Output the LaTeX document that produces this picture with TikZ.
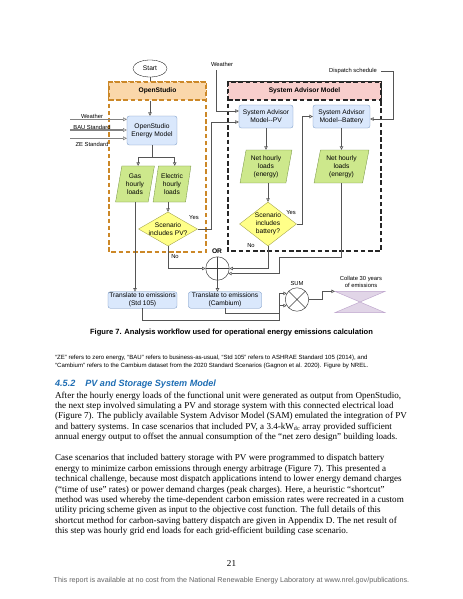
\documentclass[tikz,border=0pt]{standalone}
\usepackage{fontspec}
\setmainfont{Liberation Serif}
\setsansfont{Liberation Sans}
\usetikzlibrary{calc, positioning, arrows.meta, shapes.geometric}

\definecolor{osorange}{RGB}{204,136,40}
\definecolor{osfill}{RGB}{250,215,170}
\definecolor{samfill}{RGB}{248,206,204}
\definecolor{boxblue}{RGB}{218,232,252}
\definecolor{boxline}{RGB}{108,142,191}
\definecolor{datagreen}{RGB}{205,232,140}
\definecolor{dataline}{RGB}{110,140,60}
\definecolor{qyellow}{RGB}{255,255,136}
\definecolor{qline}{RGB}{150,150,60}
\definecolor{lavender}{RGB}{225,213,231}
\definecolor{lavline}{RGB}{190,165,205}
\definecolor{wiregray}{RGB}{85,85,85}
\definecolor{feedgray}{RGB}{130,130,130}
\definecolor{headblue}{RGB}{31,110,180}
\definecolor{footgray}{RGB}{100,100,100}

\newcommand\diagfont{\sffamily\fontsize{8.8}{10.3}\selectfont}
\newcommand\lblfont{\sffamily\fontsize{7.7}{9}\selectfont}
\newcommand\hdrfont{\sffamily\bfseries\fontsize{8.8}{10}\selectfont}

\tikzset{
  wire/.style={draw=wiregray, line width=0.8pt},
  flow/.style={wire, -{Triangle[open, length=4.5pt, width=4.5pt]}},
  feed/.style={draw=feedgray, line width=1.6pt, -{Triangle[open, length=5pt, width=5pt, line width=0.8pt]}},
  osframe/.style={draw=osorange, line width=1.5pt, dash pattern=on 6pt off 3.5pt},
  samframe/.style={draw=black!85, line width=1.5pt, dash pattern=on 6pt off 3.5pt},
  oshead/.style={osframe, fill=osfill, inner sep=0pt, font=\hdrfont},
  samhead/.style={samframe, fill=samfill, inner sep=0pt, font=\hdrfont},
  proc/.style={draw=boxline, fill=boxblue, rounded corners=3pt, align=center, inner sep=0.5pt, font=\diagfont},
  data/.style={trapezium, trapezium left angle=78, trapezium right angle=102, trapezium stretches=true,
    draw=dataline, fill=datagreen, align=center, inner sep=0pt, font=\diagfont},
  query/.style={diamond, draw=qline, fill=qyellow, inner sep=0pt},
  qtext/.style={align=center, inner sep=0pt, font=\diagfont},
  gate/.style={circle, draw=black!75, line width=0.6pt, fill=white, minimum size=31pt, inner sep=0pt},
  tag/.style={inner sep=0pt, font=\lblfont},
  collate/.style={draw=lavline, fill=lavender, line width=0.6pt},
  bodyline/.style={anchor=base west, inner sep=0pt, font=\rmfamily\fontsize{12}{13.8}\selectfont},
  noteline/.style={anchor=base west, inner sep=0pt, font=\sffamily\fontsize{8}{9.5}\selectfont},
}

\begin{document}
\begin{tikzpicture}[x=1.3218pt, y=-1.3218pt]
  \path[use as bounding box, fill=white] (0,0) rectangle (463,599);

  % swim lanes
  \draw[osframe] (109,82) rectangle (206,252);
  \draw[samframe] (228,82) rectangle (381,251);
  \node[oshead, minimum width=128.2pt, minimum height=23.8pt] (oshead) at (157.5,91) {OpenStudio};
  \node[samhead, minimum width=202.2pt, minimum height=23.8pt] (samhead) at (304.5,91) {System Advisor Model};

  % OpenStudio side
  \node[draw, ellipse, fill=white, minimum width=45pt, minimum height=22.5pt, inner sep=0pt, font=\diagfont] (start) at (150,68.5) {Start};
  \node[proc, minimum width=66pt, minimum height=38.3pt] (osmodel) at (152,130.5) {OpenStudio\\Energy Model};
  \node[data, minimum width=51.5pt, minimum height=47.6pt] (gas) at (135,184) {Gas\\hourly\\loads};
  \node[data, minimum width=50.2pt, minimum height=47.6pt] (elec) at (172,184) {Electric\\hourly\\loads};
  \node[query, minimum width=78pt, minimum height=45pt] (pvq) at (168,229) {};
  \node[qtext] (pvqt) at (pvq) {Scenario\\includes PV?};

  % SAM side
  \node[proc, minimum width=71.4pt, minimum height=30.4pt] (sampv) at (266,116.5) {System Advisor\\Model-{}-PV};
  \node[proc, minimum width=75.3pt, minimum height=30.4pt] (samb) at (341.5,116.5) {System Advisor\\Model-{}-Battery};
  \node[data, minimum width=68.7pt, minimum height=43.6pt] (pvnet) at (266,166.5) {Net hourly\\loads\\(energy)};
  \node[data, minimum width=72.7pt, minimum height=43.6pt] (batnet) at (341.5,166.5) {Net hourly\\loads\\(energy)};
  \node[query, minimum width=75.3pt, minimum height=58.2pt] (batq) at (268,224) {};
  \node[qtext] (batqt) at (batq) {Scenario\\includes\\battery?};

  % combining and emissions
  \node[gate] (or) at (217.5,268.5) {};
  \draw[black!75, line width=0.6pt] (or.north) -- (or.south) (or.west) -- (or.east);
  \node[font=\sffamily\bfseries\fontsize{8.8}{10}\selectfont, inner sep=0pt] (orlab) at (217,251) {OR};
  \node[proc, minimum width=91.2pt, minimum height=21.8pt] (std) at (142.5,300) {Translate to emissions\\(Std 105)};
  \node[proc, minimum width=96.5pt, minimum height=21.8pt] (camb) at (225,300) {Translate to emissions\\(Cambium)};
  \node[gate] (sum) at (297,299.5) {};
  \draw[black!75, line width=0.6pt] (sum.45) -- (sum.225) (sum.135) -- (sum.315);
  \node[tag] (sumlab) at (297,283) {SUM};
  \node[minimum width=66pt, minimum height=27.8pt, inner sep=0pt] (col) at (360,302) {};
  \filldraw[collate] (col.north west) -- (col.north east) -- (col.south west) -- (col.south east) -- cycle;
  \node[tag, align=center] (collab) at (361,282) {Collate 30 years\\of emissions};

  % inputs
  \coordinate (wx) at (70,119.3);
  \coordinate (bx) at (70,130);
  \coordinate (zx) at (70,138.3);
  \draw[feed] (wx) -- (wx -| osmodel.west);
  \draw[feed] (bx) -- (bx -| osmodel.west);
  \draw[feed] (zx) -- (zx -| osmodel.west);
  \node[tag] (wlab) at (92,116) {Weather};
  \node[tag] (blab) at (92,127) {BAU Standard};
  \node[tag] (zlab) at (92,144.5) {ZE Standard};
  \coordinate (sw) at (216.7,70);
  \node[tag] (swlab) at (222,64.5) {Weather};
  \coordinate (ds) at (381,71);
  \node[tag] (dslab) at (353,71) {Dispatch schedule};

  % connectors
  \draw[wire] (start.south) -- (start.south |- oshead.north);
  \draw[flow] (start.south |- oshead.south) -- (start.south |- osmodel.north);
  \draw[flow] (osmodel.south) -- ++(0,12) -| (gas.top side);
  \draw[flow] (osmodel.south) -- ++(0,12) -| (elec.top side);
  \draw[flow] (pvq.north |- elec.south) -- (pvq.north);
  \draw[flow] (gas.center |- gas.south) -- (gas.center |- std.north);
  \draw[flow] (pvq.east) -- ++(14,0) |- ($(sampv.west)+(0,5.5)$);
  \node[tag] (pvyes) at (194,218) {Yes};
  \draw[flow] (pvq.south) |- (or.west);
  \node[tag] (pvno) at (175,257) {No};
  \draw[flow] (sw) |- ($(sampv.west)+(0,-5.5)$);
  \draw[flow] (ds) -- (393,71) |- ($(samb.east)+(0,2.5)$);
  \draw[flow] (sampv.south) -- (sampv.south |- pvnet.north);
  \draw[flow] (batq.north |- pvnet.south) -- (batq.north);
  \draw[flow] (samb.south) -- (samb.south |- batnet.north);
  \draw[flow] (batq.east) -- ++(5.5,0) |- (samb.west);
  \node[tag] (batyes) at (291,213) {Yes};
  \draw[flow] (batq.south) |- (or.east);
  \node[tag] (batno) at (251,246) {No};
  \draw[flow] (batnet.center |- batnet.south) |- (279,257) |- (or.-25);
  \draw[flow] (or.south) -- (or.south |- camb.north);
  \draw[flow] (camb.south) |- (279,313) |- (sum.149);
  \draw[flow] (std.south) |- (279,320) |- (sum.211);
  \draw[flow] (sum.east) -- ++(13,0) |- (col.north west);

  % caption and page text
  \node[anchor=base, inner sep=0pt, font=\sffamily\bfseries\fontsize{10}{12}\selectfont] (cap) at (231.5,334)
    {Figure 7. Analysis workflow used for operational energy emissions calculation};
  \foreach \ln [count=\k] in {%
    {“ZE” refers to zero energy, “BAU” refers to business-as-usual, “Std 105” refers to ASHRAE Standard 105 (2014), and},
    {“Cambium” refers to the Cambium dataset from the 2020 Standard Scenarios (Gagnon et al. 2020). Figure by NREL.}}
    \node[noteline] (note\k) at (55,351.6+7.9*\k) {\ln};
  \node[anchor=base west, inner sep=0pt, text=headblue, font=\sffamily\bfseries\itshape\fontsize{12}{14}\selectfont] (head) at (55,386.5)
    {4.5.2\hspace{1.1em}PV and Storage System Model};
  \foreach \ln [count=\k] in {%
    {After the hourly energy loads of the functional unit were generated as output from OpenStudio,},
    {the next step involved simulating a PV and storage system with this connected electrical load},
    {(Figure 7). The publicly available System Advisor Model (SAM) emulated the integration of PV},
    {and battery systems. In case scenarios that included PV, a 3.4-kW\textsubscript{dc} array provided sufficient},
    {annual energy output to offset the annual consumption of the “net zero design” building loads.}}
    \node[bodyline] (para1l\k) at (55,387.55+10.45*\k) {\ln};
  \foreach \ln [count=\k] in {%
    {Case scenarios that included battery storage with PV were programmed to dispatch battery},
    {energy to minimize carbon emissions through energy arbitrage (Figure 7). This presented a},
    {technical challenge, because most dispatch applications intend to lower energy demand charges},
    {(“time of use” rates) or power demand charges (peak charges). Here, a heuristic “shortcut”},
    {method was used whereby the time-dependent carbon emission rates were recreated in a custom},
    {utility pricing scheme given as input to the objective cost function. The full details of this},
    {shortcut method for carbon-saving battery dispatch are given in Appendix D. The net result of},
    {this step was hourly grid end loads for each grid-efficient building case scenario.}}
    \node[bodyline] (para2l\k) at (55,450.25+10.45*\k) {\ln};
  \node[anchor=base, inner sep=0pt, font=\rmfamily\fontsize{12}{14}\selectfont] (pageno) at (231.5,566.5) {21};
  \node[anchor=base, inner sep=0pt, text=footgray, font=\sffamily\fontsize{9.5}{11}\selectfont] (foot) at (231.5,582)
    {This report is available at no cost from the National Renewable Energy Laboratory at www.nrel.gov/publications.};
\end{tikzpicture}
\end{document}
